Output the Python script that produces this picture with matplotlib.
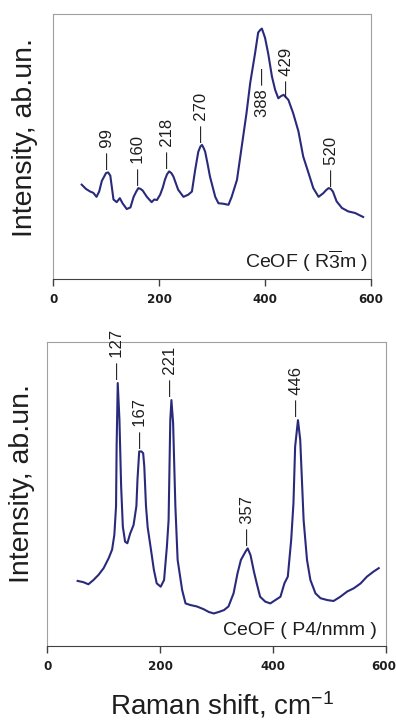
import matplotlib.pyplot as plt
import matplotlib.transforms as mtransforms
import numpy as np

plt.rcParams['font.family'] = ['Liberation Sans', 'DejaVu Sans']
plt.rcParams['mathtext.fontset'] = 'custom'
plt.rcParams['mathtext.rm'] = 'Liberation Sans'
plt.rcParams['mathtext.it'] = 'Liberation Sans'

# CeOF (R-3m) spectrum (arb. units)
top_x = [54, 62, 70, 76, 82, 87, 92, 96, 100, 104, 108, 114, 120, 126, 131, 135, 139, 146,
         152, 157, 161, 165, 169, 177, 186, 191, 196, 202, 207, 211, 215, 219, 223, 227, 236,
         246, 255, 262, 268, 274, 278, 281, 284, 287, 292, 296, 306, 312, 321, 331, 337, 347,
         356, 365, 372, 381, 387, 391, 394, 400, 406, 413, 419, 425, 430, 435, 444, 453, 463,
         472, 482, 491, 501, 510, 515, 520, 524, 528, 535, 545, 557, 570, 585]
top_y = [0.356, 0.340, 0.330, 0.325, 0.310, 0.330, 0.370, 0.385, 0.400, 0.402, 0.390, 0.300,
         0.290, 0.305, 0.286, 0.275, 0.264, 0.270, 0.310, 0.330, 0.343, 0.340, 0.334, 0.310,
         0.290, 0.300, 0.298, 0.318, 0.345, 0.374, 0.395, 0.406, 0.400, 0.387, 0.337, 0.310,
         0.318, 0.330, 0.410, 0.480, 0.500, 0.506, 0.495, 0.480, 0.430, 0.387, 0.310, 0.286,
         0.284, 0.280, 0.310, 0.374, 0.500, 0.626, 0.740, 0.850, 0.930, 0.940, 0.945, 0.910,
         0.850, 0.764, 0.714, 0.682, 0.690, 0.695, 0.676, 0.626, 0.557, 0.462, 0.400, 0.343,
         0.310, 0.324, 0.335, 0.343, 0.340, 0.330, 0.293, 0.268, 0.255, 0.249, 0.234]

# CeOF (P4/nmm) spectrum
bot_x = [54, 64, 73, 82, 91, 100, 109, 115, 119, 122, 123, 125, 128, 131, 134, 138, 142, 147,
         153, 158, 160, 163, 167, 170, 172, 175, 178, 183, 189, 194, 201, 207, 212, 215, 218,
         220, 223, 227, 231, 239, 245, 253, 265, 277, 286, 295, 304, 313, 321, 330, 337, 343,
         351, 355, 360, 366, 371, 377, 386, 395, 404, 413, 420, 426, 432, 436, 439, 444, 448,
         454, 460, 466, 475, 484, 496, 507, 519, 531, 543, 555, 566, 578, 587]
bot_y = [0.214, 0.210, 0.203, 0.217, 0.234, 0.256, 0.289, 0.317, 0.366, 0.460, 0.656, 0.865,
         0.744, 0.525, 0.393, 0.343, 0.338, 0.370, 0.398, 0.460, 0.550, 0.640, 0.640, 0.634,
         0.590, 0.460, 0.390, 0.327, 0.250, 0.206, 0.195, 0.217, 0.327, 0.414, 0.743, 0.809,
         0.733, 0.460, 0.283, 0.184, 0.140, 0.135, 0.130, 0.121, 0.112, 0.107, 0.112, 0.118,
         0.130, 0.173, 0.239, 0.283, 0.310, 0.321, 0.299, 0.245, 0.206, 0.162, 0.146, 0.140,
         0.151, 0.162, 0.206, 0.228, 0.349, 0.469, 0.656, 0.743, 0.678, 0.414, 0.283, 0.217,
         0.173, 0.157, 0.151, 0.148, 0.162, 0.179, 0.190, 0.206, 0.228, 0.245, 0.256]

# peak labels: text and x where the label stands
top_peaks = ['99', '160', '218', '270', '388', '429', '520']
top_peak_x = [102, 161, 216, 280, 395, 440, 526]
bot_peaks = ['127', '167', '221', '357', '446']
bot_peak_x = [125, 166, 219, 355, 442]

line_color = '#2a2a7c'
text_color = '#1e1e1e'

fig = plt.figure(figsize=(3.96, 7.22), dpi=100)
ax1 = fig.add_axes([0.134, 0.6136, 0.803, 0.367])
ax2 = fig.add_axes([0.119, 0.1053, 0.856, 0.421])


def style(ax):
    ax.set_xlim(0, 600)
    ax.set_ylim(0, 1)
    ax.set_xticks([0, 200, 400, 600])
    ax.set_yticks([])
    for s in ['top', 'right', 'left']:
        ax.spines[s].set_color('#a0a0a0')
    ax.spines['bottom'].set_color('#404040')
    ax.tick_params(axis='x', direction='out', length=5, width=1, color='#404040', pad=5)
    for lab in ax.get_xticklabels():
        lab.set_family('DejaVu Sans')
        lab.set_fontweight('bold')
        lab.set_fontsize(8.6)
        lab.set_color(text_color)


def peak_labels(ax, xs, ys, names, pos):
    xs = np.array(xs)
    ys = np.array(ys)
    for name, px in zip(names, pos):
        near = ys[(xs >= px - 4) & (xs <= px + 4)]
        top = near.max() if len(near) else np.interp(px, xs, ys)
        if name == '388':
            ax.text(px, top - 0.15, name + ' \u2014', rotation=90, ha='center', va='top',
                    fontsize=12, color=text_color)
        else:
            ax.text(px, top + 0.012, '\u2014 ' + name, rotation=90, ha='center', va='bottom',
                    fontsize=12, color=text_color)


ax1.plot(top_x, top_y, color=line_color, lw=1.5)
ax2.plot(bot_x, bot_y, color=line_color, lw=1.5)
style(ax1)
style(ax2)
peak_labels(ax1, top_x, top_y, top_peaks, top_peak_x)
peak_labels(ax2, bot_x, bot_y, bot_peaks, bot_peak_x)

# keep the last tick label of the lower panel inside the figure
last = ax2.get_xticklabels()[-1]
last.set_transform(last.get_transform() + mtransforms.ScaledTranslation(-2 / 72, 0, fig.dpi_scale_trans))

ax1.text(0.99, 0.0415, r'CeOF ( R$\overline{\mathrm{3}}$m )', transform=ax1.transAxes,
         ha='right', va='baseline', fontsize=14, color=text_color)
ax2.text(0.973, 0.036, 'CeOF ( P4/nmm )', transform=ax2.transAxes,
         ha='right', va='baseline', fontsize=14, color=text_color)

fig.text(0.063, 0.810, 'Intensity, ab.un.', rotation=90, ha='center', va='center',
         fontsize=20.5, color=text_color)
fig.text(0.056, 0.330, 'Intensity, ab.un.', rotation=90, ha='center', va='center',
         fontsize=20.5, color=text_color)
fig.text(0.278, 1 - 715 / 722, r'Raman shift, cm$^{\mathrm{-1}}$', ha='left', va='baseline',
         fontsize=20, color=text_color)

fig.savefig('out.png', dpi=100)
